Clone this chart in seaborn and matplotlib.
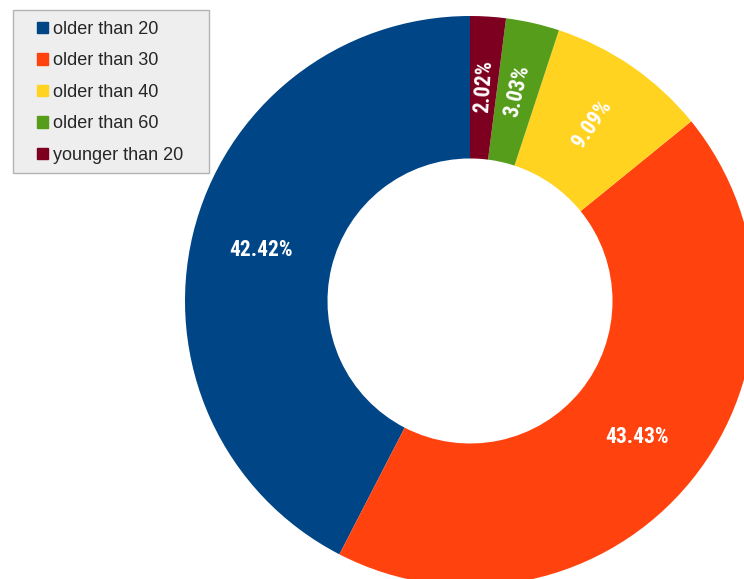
import matplotlib
matplotlib.use("Agg")
import matplotlib.pyplot as plt
import matplotlib.patches as mpatches
import seaborn as sns
import numpy as np

# ==================== DATA ====================
categories = ["older than 20", "older than 30", "older than 40", "older than 60", "younger than 20"]
shares = [42.42, 43.43, 9.09, 3.03, 2.02]
pct_labels = ["42.42%", "43.43%", "9.09%", "3.03%", "2.02%"]
colors = ["#004586", "#ff420e", "#ffd320", "#579d1c", "#7e0021"]

# ==================== PLOT ====================
sns.set_style("white")
plt.rcParams["font.family"] = ["Liberation Sans", "DejaVu Sans"]
palette = sns.color_palette(colors)

W, H = 744, 579
cx, cy, R = 470, 301, 285  # pixel center and outer radius

fig = plt.figure(figsize=(W / 100, H / 100), dpi=100)
ax = fig.add_axes([0, 0, 1, 1])

wedges, _ = ax.pie(shares, colors=palette, startangle=90, counterclock=True,
                   radius=1.0, wedgeprops=dict(width=0.5, linewidth=0))

ax.set_aspect("auto")
ax.set_xlim(-cx / R, (W - cx) / R)
ax.set_ylim(-(H - cy) / R, cy / R)
ax.axis("off")

# percentage labels in the middle of the ring
for w, lab, val in zip(wedges, pct_labels, shares):
    mid = (w.theta1 + w.theta2) / 2
    r = 0.755
    x = r * np.cos(np.radians(mid))
    y = r * np.sin(np.radians(mid))
    rot = mid if val < 20 else 0
    ax.text(x, y, lab, ha="center", va="center", rotation=rot,
            rotation_mode="anchor", color="white", fontsize=15.5,
            fontweight="bold", fontstretch="condensed",
            family=["Roboto Condensed", "DejaVu Sans"])

# legend box
frame = mpatches.Rectangle((13 / W, 1 - 173 / H), 196 / W, 163 / H,
                           transform=fig.transFigure, facecolor="#eeeeee",
                           edgecolor="#b3b3b3", linewidth=1, zorder=5)
fig.patches.append(frame)

handles = [mpatches.Patch(color=c) for c in colors]
leg = fig.legend(handles, categories, loc="upper left",
                 bbox_to_anchor=(37 / W, 1 - 21 / H), fontsize=13,
                 handlelength=0.6, handleheight=0.6, handletextpad=0.3,
                 labelspacing=0.8, borderpad=0, borderaxespad=0,
                 frameon=False)
leg.set_zorder(6)

plt.savefig("out.png", dpi=100)
